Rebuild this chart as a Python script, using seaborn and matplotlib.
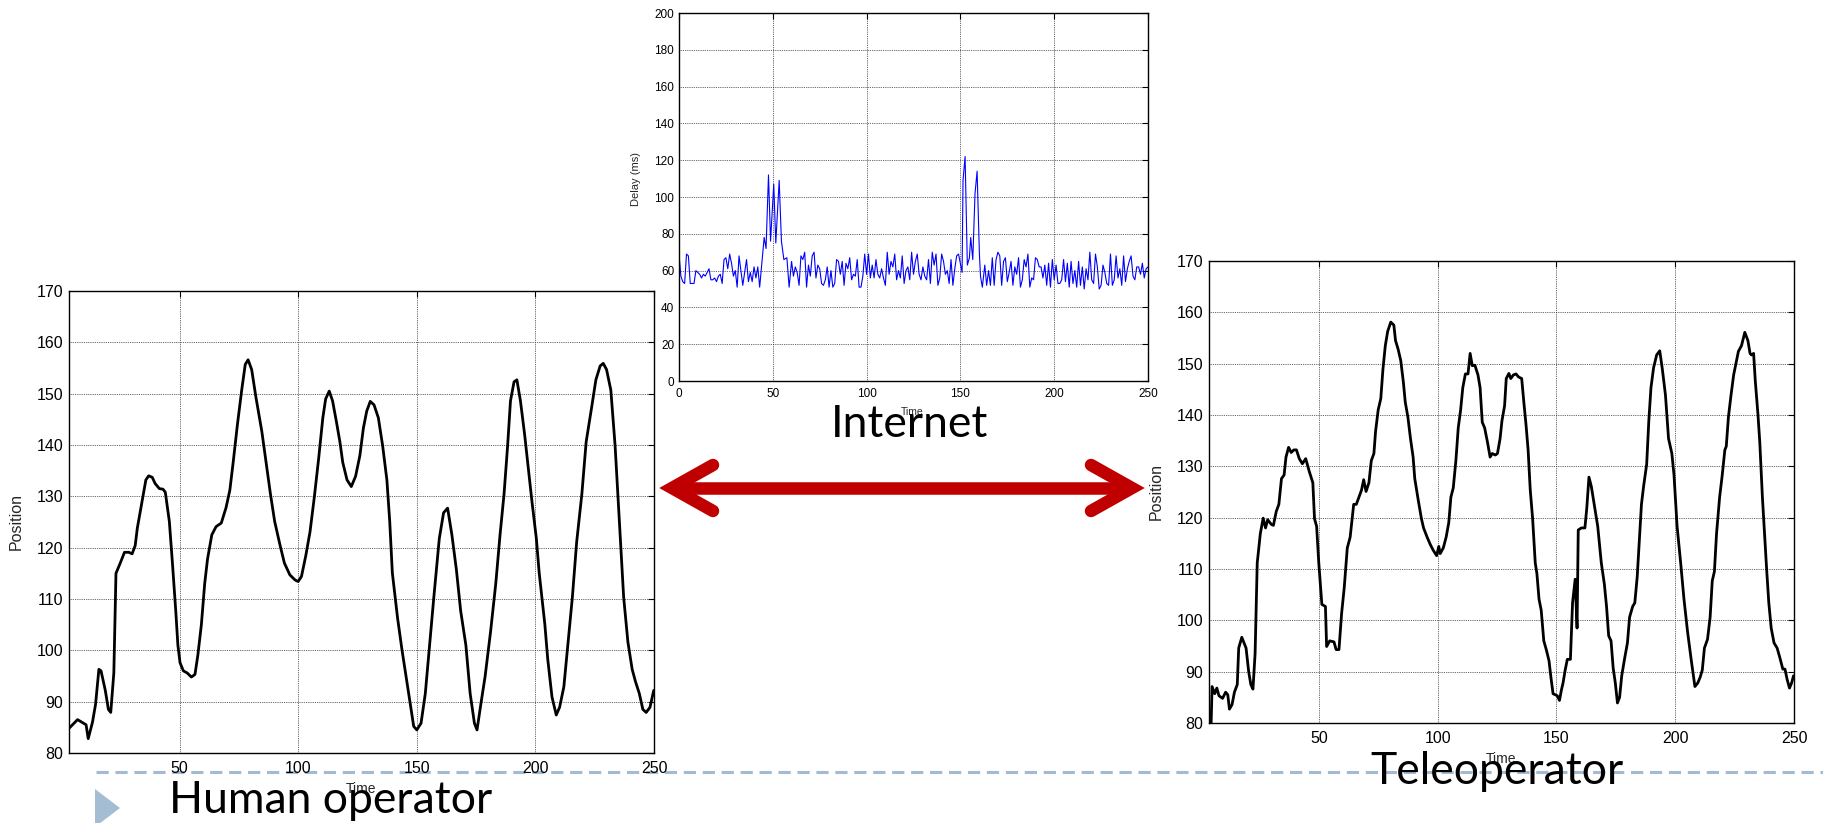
import numpy as np
import pandas as pd
import seaborn as sns
import matplotlib.pyplot as plt
from matplotlib.lines import Line2D
from matplotlib.patches import Polygon

# ---- data ----
human_t = [3.4, 7, 10.6, 11.5, 13.3, 14.6, 16, 16.9, 18.7, 20,
           21, 22.3, 23.2, 25, 26.8, 28.6, 30, 31.3, 32.2, 34,
           35.8, 37, 38.5, 39.7, 41.5, 43, 44, 45.7, 47, 48.4,
           49.3, 50.2, 51.6, 53.2, 55, 56.5, 57.7, 59.2, 60.6, 61.8,
           63.6, 65.4, 67.6, 69.6, 71.2, 72.6, 74.4, 76.2, 77.7, 78.9,
           80.4, 82.2, 84.7, 86.5, 88.3, 90.1, 92.4, 94.2, 96.5, 98.7,
           100, 101.4, 103.2, 105, 106.8, 108.6, 110.4, 111.6, 113.1, 114.5,
           116.1, 117.6, 118.8, 120.6, 122.4, 124.2, 126, 127.5, 128.9, 130.4,
           132, 133.8, 135.6, 137.4, 138.6, 139.7, 141.9, 143.7, 145.5, 147.3,
           148.7, 150, 151.8, 153.6, 155.4, 157.2, 159.5, 161.3, 163, 164.8,
           166.7, 168.5, 170.7, 172.5, 174.3, 175.4, 177, 178.8, 181.1, 183.3,
           185.1, 186.8, 188.3, 189.5, 191, 192.2, 193.7, 195.5, 196.9, 198.5,
           200.4, 201.6, 204, 205.2, 207, 208.8, 210.2, 212, 213.8, 215.6,
           217.4, 219.6, 221.4, 223.7, 225.5, 227.3, 228.6, 230, 231.8, 233.6,
           235.4, 237.2, 239, 240.8, 242.2, 243.8, 245.3, 246.7, 248.3, 249.9]
human_pos = [84.8, 86.5, 85.5, 82.8, 86, 89.5, 96.3, 96, 92.2, 88.5,
             87.9, 95.6, 115, 117, 119.1, 119.1, 118.8, 120.4, 123.8, 128.5,
             133.2, 134, 133.7, 132.5, 131.5, 131.4, 130.8, 125.1, 117, 107.7,
             101, 97.6, 96, 95.6, 94.8, 95.3, 99, 105, 113, 117.8,
             122.5, 124.1, 124.8, 127.8, 131.2, 136.6, 144, 150.7, 155.7, 156.6,
             154.7, 149.3, 142.6, 136.6, 130.5, 125.1, 120.4, 117, 114.7, 113.7,
             113.4, 114.4, 118.4, 123.1, 129.8, 137.2, 145.3, 149, 150.5, 148.6,
             144.6, 140.6, 136.6, 133.2, 131.9, 133.9, 137.9, 143.3, 146.6, 148.5,
             147.8, 145.3, 139.9, 133.2, 125.1, 115.1, 106.3, 100.3, 94.9, 89.5,
             85.2, 84.5, 85.8, 91.6, 101, 110.4, 121.8, 126.8, 127.7, 122.5,
             115.7, 107.7, 101, 91.6, 85.8, 84.5, 89.5, 94.9, 103.6, 113,
             122.5, 130.5, 139.9, 148.6, 152.3, 152.7, 148.6, 141.9, 135.9, 129.2,
             121.8, 115.1, 105, 98.3, 90.9, 87.4, 88.9, 92.9, 101.6, 110.4,
             121.1, 130.5, 140.6, 147.3, 152.7, 155.4, 155.9, 154.7, 150.7, 139.9,
             125.1, 110.4, 101.6, 96.3, 93.9, 91.6, 88.5, 87.9, 88.9, 92.2]

tele_t = [4.7, 5.1, 6.2, 7.1, 8, 9.5, 10.8, 11.7, 12.4, 13.5,
          14.5, 15.7, 16.3, 17.6, 19.4, 20.5, 21.4, 22.3, 23.2, 24.1,
          25.4, 26.6, 27.6, 28.5, 30, 30.9, 32.1, 33.2, 34.3, 35.4,
          36.2, 37.3, 38.4, 39.5, 40.6, 41.8, 43.1, 44.5, 46, 47.5,
          48.2, 49.1, 50, 51.3, 52.8, 53.3, 54.6, 56.4, 57.3, 58.5,
          59.6, 60.7, 62, 63.2, 64.7, 65.8, 66.9, 68, 68.9, 69.9,
          71.1, 72.1, 73.2, 73.9, 75, 76.1, 77, 78, 79, 80.3,
          81.6, 82.3, 83.4, 84.5, 85.6, 86.4, 87.5, 88.6, 89.7, 90.4,
          91.9, 93.2, 94.1, 95.6, 96.9, 98.1, 99.6, 100.5, 101.1, 102.4,
          103.6, 104.7, 105.6, 106.6, 107.7, 108.7, 109.7, 110.6, 111.7, 112.8,
          113.7, 114.6, 115.7, 117, 117.9, 118.8, 119.8, 121, 122.1, 123,
          124.3, 125.2, 126.3, 127.1, 128.2, 128.9, 130, 130.8, 131.9, 133,
          134.1, 135.4, 136.3, 137.2, 138.1, 139, 140, 141.1, 141.8, 142.7,
          143.6, 144.7, 145.8, 146.9, 147.7, 148.6, 149.5, 150.4, 151.3, 152.1,
          152.8, 153.7, 154.6, 155.9, 156.8, 157.9, 158.7, 159.2, 160.5, 162,
          162.8, 163.7, 164.7, 165.9, 167.4, 168.9, 170.2, 171.1, 172, 173,
          173.9, 174.8, 175.7, 176.6, 177.5, 178.8, 179.9, 180.8, 182.1, 183,
          184, 184.9, 185.8, 186.7, 188, 188.9, 189.8, 190.9, 192.2, 193.5,
          194.6, 195.9, 197.2, 198.6, 199.5, 200.8, 202.3, 203.7, 205.2, 206.8,
          208.3, 209.5, 210.5, 211.4, 212.3, 213.6, 214.7, 215.6, 216.5, 217.4,
          218.7, 219.8, 220.9, 221.5, 222.4, 223.5, 224.6, 225.7, 226.6, 227.9,
          229.3, 230.6, 231.5, 232.1, 233, 233.7, 234.8, 235.6, 236.7, 237.6,
          238.5, 239.4, 240.4, 241.6, 242.9, 244, 245.3, 246.2, 247.1, 248.1,
          249, 249.8]
tele_pos = [80, 87.1, 85.7, 86.8, 85.3, 84.8, 86, 85.5, 82.7, 83.6,
            86, 87.5, 94.6, 96.7, 94.6, 90, 87.5, 86.6, 93.5, 111.2,
            116.9, 119.9, 118, 119.6, 118.7, 118.5, 121.2, 122.6, 127.6, 128.3,
            131.8, 133.7, 132.7, 133.2, 133.2, 131.5, 130.5, 131.5, 129, 126.8,
            119.8, 118.3, 111.2, 103.1, 102.7, 94.9, 96, 95.8, 94.3, 94.3,
            101.3, 106.3, 114.1, 116.2, 122.6, 122.6, 124, 125.4, 127.4, 125.1,
            126.8, 131.1, 132.5, 136.8, 141, 143.2, 148.9, 153.5, 156.3, 158.1,
            157.5, 154.5, 152.8, 150.6, 146.4, 142.5, 139.6, 135.4, 131.8, 127.6,
            123.3, 119.8, 118, 116.2, 114.8, 113.7, 112.6, 114.4, 113, 114.1,
            116.2, 119, 124, 125.8, 131.1, 137.5, 141, 145.3, 148, 148,
            152, 149.6, 149.7, 147.8, 145.3, 138.6, 137.5, 134.7, 131.8, 132.5,
            132.2, 132.5, 135.4, 138.9, 141.8, 147.1, 148.1, 147.1, 147.8, 148,
            147.4, 147.1, 142.5, 138.2, 133.2, 125.4, 119.8, 111.2, 109.1, 104.1,
            102, 96, 94.2, 92.1, 88.9, 85.7, 85.5, 85.3, 84.4, 86.4,
            87.8, 90.3, 92.4, 92.4, 103.4, 108, 98.5, 117.6, 118, 118,
            121.9, 127.9, 126.1, 122.6, 118.3, 111.2, 107, 102.7, 97, 96,
            90.7, 87.8, 83.9, 85, 89.2, 92.8, 95.6, 100.6, 102.7, 103.4,
            108.4, 115.5, 122.6, 126.1, 130.4, 138.9, 145.3, 149.2, 151.7, 152.5,
            148.9, 143.9, 135.4, 132.5, 128.3, 118.3, 111.2, 104.1, 97.8, 92.1,
            87.1, 87.8, 88.9, 90.3, 94.6, 96.3, 100.6, 107.7, 109.5, 116.9,
            124, 128.3, 133.2, 133.9, 139.6, 143.9, 147.8, 150.3, 152.4, 153.5,
            156.1, 154.5, 152, 151.7, 152, 146.7, 140.3, 134.7, 124, 116.9,
            109.8, 103.4, 98.5, 95.6, 94.6, 92.8, 90.5, 90.5, 88.5, 86.8,
            87.8, 89.2]

# network delay (ms): quiet stretches sampled once per time unit, two burst windows
delay_quiet1 = [69, 57, 54, 53, 69, 68, 53, 53, 53, 60,
                59, 58, 56, 58, 57, 59, 61, 55, 55, 56,
                54, 57, 58, 53, 66, 67, 61, 69, 64, 57,
                60, 51, 68, 60, 52, 59, 66, 54, 59, 54,
                62, 56, 62, 51]                      # t = 0..43
burst1_t = [45.4, 46.4, 47.7, 48.8, 50.5, 51.6, 53.4, 54.6, 55.9, 57.5, 58.7]
burst1_ms = [78, 72, 112, 76, 107, 75, 109, 76, 66, 67, 51]
delay_quiet2 = [65, 57, 62, 59, 52, 68, 66, 70, 51, 63,
                57, 68, 70, 56, 63, 61, 53, 52, 55, 62,
                51, 60, 51, 53, 66, 65, 58, 65, 52, 64,
                61, 67, 55, 58, 57, 66, 51, 51, 57, 69,
                58, 69, 56, 63, 56, 66, 58, 56, 61, 56,
                52, 70, 58, 65, 62, 69, 55, 60, 56, 68,
                53, 60, 62, 55, 70, 58, 65, 69, 58, 55,
                62, 57, 55, 66, 53, 70, 63, 69, 52, 56,
                69, 65, 58, 60, 53, 66, 52, 61, 68, 69]  # t = 60..149
burst2_t = [150.9, 151.4, 152.5, 153.7, 154.8, 155.5, 156.6, 157.8, 158.9, 160.1, 160.7, 161.7]
burst2_ms = [59, 109, 122, 63, 67, 78, 66, 102, 114, 70, 57, 51]
delay_quiet3 = [63, 52, 60, 52, 67, 52, 66, 70, 68, 52,
                65, 67, 54, 59, 65, 52, 62, 58, 67, 51,
                55, 66, 62, 69, 51, 56, 55, 67, 66, 62,
                62, 56, 63, 52, 64, 51, 66, 55, 63, 53,
                53, 55, 66, 54, 64, 51, 65, 53, 60, 51,
                65, 52, 62, 50, 61, 55, 70, 55, 53, 69,
                62, 50, 52, 63, 59, 53, 52, 69, 52, 55,
                68, 56, 61, 52, 68, 54, 61, 65, 68, 57,
                55, 62, 62, 58, 64, 56, 61, 62]      # t = 163..250

pos_ticks = [80, 90, 100, 110, 120, 130, 140, 150, 160, 170]
time_ticks = [50, 100, 150, 200, 250]

delay_t = (list(range(0, 44)) + burst1_t + list(range(60, 150))
           + burst2_t + list(range(163, 251)))
delay_ms = delay_quiet1 + burst1_ms + delay_quiet2 + burst2_ms + delay_quiet3

human = pd.DataFrame({'Time': human_t, 'Position': human_pos})
tele = pd.DataFrame({'Time': tele_t, 'Position': tele_pos})
delay = pd.DataFrame({'Time': delay_t, 'Delay': delay_ms})

# ---- figure ----
W, H = 1824, 823
sns.set_style('white')
plt.rcParams['font.family'] = ['Liberation Sans', 'DejaVu Sans']

fig = plt.figure(figsize=(W / 100, H / 100), dpi=100)


def px_rect(x0, y0, x1, y1):
    return [x0 / W, 1 - y1 / H, (x1 - x0) / W, (y1 - y0) / H]


def fx(x):
    return x / W


def fy(y):
    return 1 - y / H


ax_h = fig.add_axes(px_rect(69, 291, 654, 753))
ax_d = fig.add_axes(px_rect(679, 13, 1148, 381))
ax_t = fig.add_axes(px_rect(1209, 261, 1794, 723))


def style_axes(ax, fs, xpad, ypad):
    ax.grid(True, color='#333333', linestyle=(0, (1, 1.2)), linewidth=0.6)
    ax.tick_params(direction='in', length=4, width=0.8, top=True, right=True,
                   labeltop=False, labelright=False, labelsize=fs, colors='black')
    ax.tick_params(axis='x', pad=xpad)
    ax.tick_params(axis='y', pad=ypad)
    for s in ax.spines.values():
        s.set_visible(True)
        s.set_color('black')
        s.set_linewidth(1.0)


sns.lineplot(data=human, x='Time', y='Position', ax=ax_h, color='black',
             linewidth=2.0, estimator=None, sort=False)
sns.lineplot(data=tele, x='Time', y='Position', ax=ax_t, color='black',
             linewidth=2.0, estimator=None, sort=False)
sns.lineplot(data=delay, x='Time', y='Delay', ax=ax_d, color='#0000ff',
             linewidth=0.8, estimator=None, sort=False)

for ax, x0 in [(ax_h, 3.4), (ax_t, 3.8)]:
    ax.set_xlim(x0, 250)
    ax.set_ylim(80, 170)
    ax.set_xticks(time_ticks)
    ax.set_yticks(pos_ticks)
    style_axes(ax, 11.5, 6, 4)
    ax.set_xlabel('Time', fontsize=10)
    ax.set_ylabel('Position', fontsize=11.5)
    ax.xaxis.set_label_coords(0.5, -0.078)
    ax.xaxis.label.set_va('center')
    ax.yaxis.set_label_coords(-0.091, 0.5)
    ax.yaxis.label.set_va('center')

ax_d.set_xlim(0, 250)
ax_d.set_ylim(0, 200)
ax_d.set_xticks([0, 50, 100, 150, 200, 250])
ax_d.set_yticks(list(range(0, 201, 20)))
style_axes(ax_d, 8.5, 5, 3.5)
ax_d.set_xlabel('Time', fontsize=7.5)
ax_d.set_ylabel('Delay (ms)', fontsize=8)
ax_d.xaxis.set_label_coords(0.497, -0.084)
ax_d.xaxis.label.set_va('center')
ax_d.yaxis.set_label_coords(-0.092, 0.55)
ax_d.yaxis.label.set_va('center')

# slide decorations
fig.add_artist(Line2D([fx(96), 1.0], [fy(772), fy(772)], transform=fig.transFigure,
                      color='#a3bad2', linewidth=2.2, dashes=(4.0, 2.2), zorder=-1))
fig.add_artist(Polygon([[fx(95), fy(789)], [fx(95), fy(827)], [fx(120), fy(808)]],
                       closed=True, transform=fig.transFigure,
                       facecolor='#a5bdd3', edgecolor='none'))

red = '#c00000'
arrow_lw = 9.0
fig.add_artist(Line2D([fx(676), fx(1128)], [fy(488), fy(488)], transform=fig.transFigure,
                      color=red, linewidth=arrow_lw, solid_capstyle='butt'))
for xs in ([713, 672, 713], [1091, 1132, 1091]):
    fig.add_artist(Line2D([fx(v) for v in xs], [fy(465), fy(488), fy(511)],
                          transform=fig.transFigure, color=red, linewidth=arrow_lw,
                          solid_capstyle='round', solid_joinstyle='miter'))

big = dict(fontsize=32, family=['Lato', 'DejaVu Sans'], color='black',
           ha='left', va='baseline')
fig.text(fx(169), fy(813), 'Human operator', **big)
fig.text(fx(1370), fy(784), 'Teleoperator', **big)
fig.text(fx(831), fy(437), 'Internet', **big)

fig.savefig('out.png', dpi=100)
